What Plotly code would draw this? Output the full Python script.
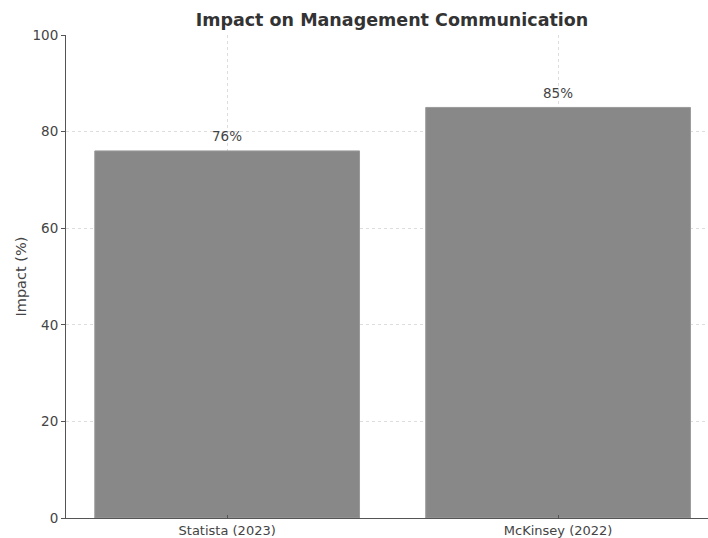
import plotly.graph_objects as go

categories = ["Statista (2023)", "McKinsey (2022)"]
values = [76, 85]
labels = ["76%", "85%"]
y_ticks = [0, 20, 40, 60, 80, 100]
y_title = "Impact (%)"

FONT = "DejaVu Sans"
W, H = 708, 538
L, R, T, B = 66, 0, 35, 20
fig = go.Figure()
fig.add_trace(go.Bar(
    x=categories, y=values, width=0.8,
    marker=dict(color="#888888", line=dict(color="#9a9a9a", width=1)),
    hoverinfo="skip",
))
for c, v, t in zip(categories, values, labels):
    fig.add_annotation(x=c, y=v + 1, text=t, showarrow=False, yanchor="bottom",
                       font=dict(family=FONT, size=13.5, color="#444444"))

fig.add_annotation(xref="paper", yref="paper", x=(20 - L) / (W - L - R), y=0.5,
                   text=y_title, textangle=-90, showarrow=False,
                   xanchor="center", yanchor="middle",
                   font=dict(family=FONT, size=14.5, color="#444444"))

fig.update_layout(
    width=W, height=H,
    margin=dict(l=L, r=R, t=T, b=B),
    paper_bgcolor="white", plot_bgcolor="white",
    showlegend=False,
    title=dict(text="<b>Impact on Management Communication</b>", x=392/708, xanchor="center",
               y=1 - 20/538, yanchor="middle",
               font=dict(family=FONT, size=17.5, color="#333333")),
    font=dict(family=FONT, size=13.5, color="#444444"),
    bargap=0.2,
)
fig.update_xaxes(
    range=[-0.487, 1.453], showline=True, linecolor="#555555", linewidth=1,
    ticks="inside", ticklen=3, tickcolor="#555555", automargin=False,
    showgrid=True, gridcolor="#dddddd", griddash="dot", gridwidth=1,
    tickfont=dict(family=FONT, size=13, color="#444444"),
)
fig.update_yaxes(
    range=[0, 100], tickvals=y_ticks, showline=True, linecolor="#555555", linewidth=1,
    ticks="outside", ticklen=4, tickcolor="#555555", automargin=False,
    showgrid=True, gridcolor="#dddddd", griddash="dot", gridwidth=1,
    zeroline=False,
    tickfont=dict(family=FONT, size=13.5, color="#444444"),
)
fig.write_html("out.html")
